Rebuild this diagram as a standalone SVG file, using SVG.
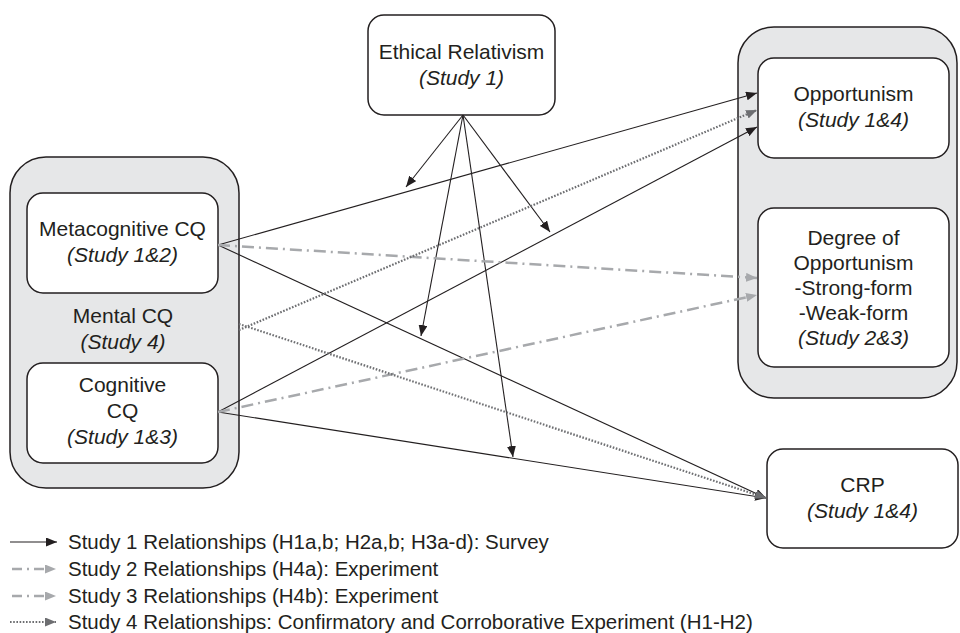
<svg xmlns="http://www.w3.org/2000/svg" width="960" height="633" viewBox="0 0 960 633">
<style>
text{font-family:"Liberation Sans",Arial,sans-serif;font-size:21px;fill:#231f20;text-anchor:middle}
.it{font-style:italic}
.lg{text-anchor:start;font-size:20.5px}
.cont{fill:#e6e7e8;stroke:#231f20;stroke-width:1.5}
.box{fill:#fff;stroke:#231f20;stroke-width:1.5}
.solid{fill:none;stroke:#231f20;stroke-width:1.1}
.dd{fill:none;stroke:#a7a9ac;stroke-width:2.5;stroke-dasharray:12 5 2 5}
.dot{fill:none;stroke:#6d6e71;stroke-width:2.2;stroke-dasharray:1.6 1.6}
</style>
<defs>
<marker id="ab" markerUnits="userSpaceOnUse" markerWidth="11" markerHeight="9" refX="11" refY="4.5" orient="auto"><path d="M0,0 L11,4.5 L0,9 z" fill="#231f20"/></marker>
<marker id="ag" markerUnits="userSpaceOnUse" markerWidth="11" markerHeight="9" refX="11" refY="4.5" orient="auto"><path d="M0,0 L11,4.5 L0,9 z" fill="#a7a9ac"/></marker>
<marker id="ad" markerUnits="userSpaceOnUse" markerWidth="11" markerHeight="9" refX="11" refY="4.5" orient="auto"><path d="M0,0 L11,4.5 L0,9 z" fill="#6d6e71"/></marker>
</defs>

<g id="mental-cq">
<rect class="cont" x="10" y="157" width="229" height="331" rx="36"/>
<text x="123" y="323">Mental CQ</text>
<text class="it" x="123" y="349">(Study 4)</text>
</g>
<g id="metacognitive-cq">
<rect class="box" x="27" y="193" width="191" height="100" rx="16"/>
<text x="122.5" y="236">Metacognitive CQ</text>
<text class="it" x="122.5" y="262">(Study 1&amp;2)</text>
</g>
<g id="cognitive-cq">
<rect class="box" x="27" y="363" width="191" height="100" rx="16"/>
<text x="122.5" y="392">Cognitive</text>
<text x="122.5" y="418">CQ</text>
<text class="it" x="122.5" y="444">(Study 1&amp;3)</text>
</g>
<g id="ethical-relativism">
<rect class="box" x="368" y="15" width="187" height="100" rx="16"/>
<text x="461.5" y="59">Ethical Relativism</text>
<text class="it" x="461.5" y="85">(Study 1)</text>
</g>
<g id="outcomes">
<rect class="cont" x="738" y="27" width="219" height="371" rx="36"/>
</g>
<g id="opportunism">
<rect class="box" x="758" y="58" width="191" height="100" rx="16"/>
<text x="853.5" y="101">Opportunism</text>
<text class="it" x="853.5" y="127">(Study 1&amp;4)</text>
</g>
<g id="degree-of-opportunism">
<rect class="box" x="758" y="208" width="191" height="159" rx="16"/>
<text x="853.5" y="245">Degree of</text>
<text x="853.5" y="270">Opportunism</text>
<text x="853.5" y="295">-Strong-form</text>
<text x="853.5" y="320">-Weak-form</text>
<text class="it" x="853.5" y="345">(Study 2&amp;3)</text>
</g>
<g id="crp">
<rect class="box" x="767" y="449" width="191" height="99" rx="16"/>
<text x="862.5" y="492">CRP</text>
<text class="it" x="862.5" y="518">(Study 1&amp;4)</text>
</g>

<g id="connectors">
<path class="solid" d="M218,245 L757,93" marker-end="url(#ab)"/>
<path class="solid" d="M218,245 L766,498" marker-end="url(#ab)"/>
<path class="solid" d="M218,412 L757,127" marker-end="url(#ab)"/>
<path class="solid" d="M218,412 L766,498" marker-end="url(#ab)"/>
<path class="solid" d="M463,115 L406,187" marker-end="url(#ab)"/>
<path class="solid" d="M463,115 L550,232" marker-end="url(#ab)"/>
<path class="solid" d="M463,115 L421,336" marker-end="url(#ab)"/>
<path class="solid" d="M463,115 L513,457" marker-end="url(#ab)"/>
<path class="dd" d="M218,245 L757,278" marker-end="url(#ag)"/>
<path class="dd" d="M218,412 L757,295" marker-end="url(#ag)"/>
<path class="dot" d="M239,330 L757,110" marker-end="url(#ad)"/>
<path class="dot" d="M239,324 L766,498" marker-end="url(#ad)"/>
</g>

<g id="legend">
<path class="solid" d="M10,542 L57,542" marker-end="url(#ab)"/>
<text class="lg" x="68" y="549">Study 1 Relationships (H1a,b; H2a,b; H3a-d): Survey</text>
<path class="dd" d="M12,569 L56,569" style="stroke-dasharray:10 5 2 5" marker-end="url(#ag)"/>
<text class="lg" x="68" y="576">Study 2 Relationships (H4a): Experiment</text>
<path class="dd" d="M12,596 L56,596" style="stroke-dasharray:10 5 2 5" marker-end="url(#ag)"/>
<text class="lg" x="68" y="603">Study 3 Relationships (H4b): Experiment</text>
<path class="dot" d="M10,622 L56,622" marker-end="url(#ad)"/>
<text class="lg" x="68" y="628.5">Study 4 Relationships: Confirmatory and Corroborative Experiment (H1-H2)</text>
</g>
</svg>
